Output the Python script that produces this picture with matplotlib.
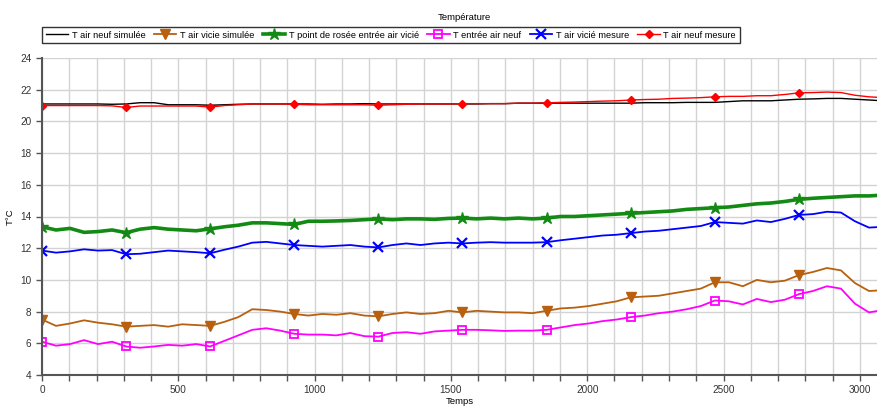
import numpy as np
import matplotlib
matplotlib.use("Agg")
import matplotlib.pyplot as plt
from matplotlib.lines import Line2D

plt.rcParams['font.family'] = ['Liberation Sans', 'DejaVu Sans']

# time axis, one reading every ~51 s (markers every 6 readings)
temps = np.arange(61) * 3085 / 60

t_air_neuf_sim = [21.1, 21.1, 21.1, 21.1, 21.1, 21.08, 21.1, 21.18, 21.18, 21.05,
                  21.05, 21.05, 21.02, 21.05, 21.08, 21.1, 21.1, 21.1, 21.1, 21.1,
                  21.08, 21.1, 21.1, 21.12, 21.1, 21.1, 21.1, 21.1, 21.1, 21.1,
                  21.1, 21.1, 21.12, 21.12, 21.15, 21.15, 21.15, 21.15, 21.15, 21.15,
                  21.15, 21.15, 21.15, 21.18, 21.18, 21.18, 21.2, 21.2, 21.2, 21.25,
                  21.3, 21.3, 21.3, 21.35, 21.4, 21.42, 21.45, 21.45, 21.4, 21.35, 21.3]
t_air_neuf_mes = [21.0, 21.0, 21.0, 21.0, 21.0, 20.98, 20.88, 20.97, 20.97, 20.97,
                  20.97, 20.97, 20.9, 21.0, 21.05, 21.1, 21.1, 21.1, 21.08, 21.05,
                  21.05, 21.05, 21.05, 21.05, 21.02, 21.05, 21.08, 21.1, 21.1, 21.1,
                  21.12, 21.12, 21.12, 21.12, 21.15, 21.15, 21.17, 21.2, 21.22, 21.25,
                  21.28, 21.3, 21.35, 21.38, 21.4, 21.45, 21.47, 21.5, 21.55, 21.58,
                  21.58, 21.62, 21.62, 21.7, 21.8, 21.82, 21.85, 21.82, 21.65, 21.55, 21.5]
t_rosee = [13.35, 13.15, 13.25, 13.0, 13.05, 13.15, 12.98, 13.2, 13.3, 13.2,
           13.15, 13.1, 13.22, 13.35, 13.45, 13.6, 13.6, 13.55, 13.5, 13.7,
           13.7, 13.72, 13.75, 13.8, 13.85, 13.8, 13.85, 13.85, 13.82, 13.88,
           13.9, 13.85, 13.9, 13.85, 13.9, 13.85, 13.9, 14.0, 14.0, 14.05,
           14.1, 14.15, 14.2, 14.25, 14.3, 14.35, 14.45, 14.5, 14.55, 14.6,
           14.7, 14.8, 14.85, 14.95, 15.08, 15.15, 15.2, 15.25, 15.3, 15.3, 15.35]
t_air_vicie_mes = [11.85, 11.72, 11.8, 11.93, 11.85, 11.88, 11.62, 11.65, 11.75, 11.85,
                   11.8, 11.75, 11.68, 11.9, 12.1, 12.35, 12.4, 12.3, 12.2, 12.15,
                   12.1, 12.15, 12.2, 12.1, 12.05, 12.2, 12.3, 12.2, 12.3, 12.35,
                   12.3, 12.35, 12.38, 12.35, 12.35, 12.35, 12.38, 12.5, 12.6, 12.7,
                   12.8, 12.85, 12.95, 13.05, 13.1, 13.2, 13.3, 13.4, 13.65, 13.6,
                   13.55, 13.75, 13.65, 13.85, 14.1, 14.15, 14.3, 14.25, 13.7, 13.3, 13.35]
t_air_vicie_sim = [7.5, 7.1, 7.25, 7.45, 7.3, 7.2, 7.05, 7.1, 7.15, 7.05,
                   7.2, 7.15, 7.1, 7.35, 7.65, 8.15, 8.1, 8.0, 7.85, 7.75,
                   7.85, 7.8, 7.9, 7.75, 7.7, 7.85, 7.95, 7.85, 7.9, 8.05,
                   7.95, 8.05, 8.0, 7.95, 7.95, 7.9, 8.05, 8.2, 8.25, 8.35,
                   8.5, 8.65, 8.9, 8.95, 9.0, 9.15, 9.3, 9.45, 9.85, 9.85,
                   9.6, 10.0, 9.85, 9.95, 10.3, 10.5, 10.75, 10.6, 9.8, 9.3, 9.35]
t_entree_air_neuf = [6.1, 5.85, 5.95, 6.2, 5.95, 6.1, 5.8, 5.72, 5.8, 5.9,
                     5.85, 5.95, 5.8, 6.15, 6.5, 6.85, 6.95, 6.8, 6.6, 6.55,
                     6.55, 6.5, 6.65, 6.45, 6.42, 6.65, 6.7, 6.6, 6.75, 6.8,
                     6.85, 6.85, 6.82, 6.78, 6.8, 6.8, 6.85, 7.0, 7.15, 7.25,
                     7.4, 7.5, 7.65, 7.75, 7.9, 8.0, 8.15, 8.35, 8.7, 8.65,
                     8.45, 8.8, 8.6, 8.75, 9.1, 9.3, 9.6, 9.45, 8.5, 7.95, 8.1]

labels = ['T air neuf simulée', 'T air vicie simulée',
          'T point de rosée entrée air vicié', 'T entrée air neuf',
          'T air vicié mesure', 'T air neuf mesure']

styles = [dict(color='black', lw=1),
          dict(color='#b8600f', lw=1.3, marker='v', ms=7),
          dict(color='#138a13', lw=2.6, marker='*', ms=9),
          dict(color='#ff00ff', lw=1.3, marker='s', ms=6, mfc='none', mew=1.3),
          dict(color='#0000ff', lw=1.3, marker='x', ms=7, mew=1.6),
          dict(color='#ff0000', lw=1, marker='D', ms=4)]
series = [t_air_neuf_sim, t_air_vicie_sim, t_rosee, t_entree_air_neuf,
          t_air_vicie_mes, t_air_neuf_mes]

fig = plt.figure(figsize=(8.77, 4.07), dpi=100)
ax = fig.add_axes([42/877, 1-375/407, 1-42/877, (375-58)/407])

handles = []
for y, st in zip(series, styles):
    ax.plot(temps, y, markevery=6, **st)
    handles.append(Line2D([], [], **st))

ax.set_xlim(0, 3063)
ax.set_ylim(4, 24)
ax.set_xticks(np.arange(0, 3001, 500))
ax.set_xticks(np.arange(0, 3063, 100), minor=True)
ax.set_yticks(np.arange(4, 25, 2))
ax.grid(True, which='both', color='#d3d3d3', lw=1)
ax.set_axisbelow(True)
for s in ['top', 'right']:
    ax.spines[s].set_visible(False)
for s in ['left', 'bottom']:
    ax.spines[s].set_color('#555555')
    ax.spines[s].set_linewidth(1.5)
ax.tick_params(which='both', direction='out', length=4, width=1, color='#555555',
               labelsize=7.2, labelcolor='#333333')
ax.set_ylabel('T°C', fontsize=6.8, labelpad=4)
ax.set_xlabel('Temps', fontsize=6.8, labelpad=1)

fig.text(464/877, 1-17/407, 'Température', ha='center', va='center', fontsize=6.8)

leg = fig.legend(handles, labels,
                 loc='upper left', bbox_to_anchor=(42/877, 1-27/407), ncol=6,
                 fontsize=6.7, frameon=True, fancybox=False, handlelength=2.4,
                 handletextpad=0.4, columnspacing=0.9, borderpad=0.4,
                 borderaxespad=0)
leg.get_frame().set_edgecolor('black')
leg.get_frame().set_linewidth(1)

fig.savefig('out.png', dpi=100)
